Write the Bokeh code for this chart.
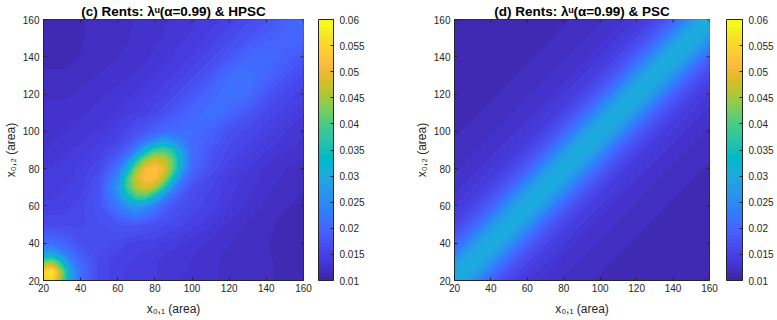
from bokeh.plotting import figure
from bokeh.layouts import row
from bokeh.models import (LinearColorMapper, ColorBar, FixedTicker, NumeralTickFormatter, Range1d)
from bokeh.embed import file_html
from bokeh.resources import INLINE
import numpy as np

# ---------------- data ----------------
# panel (c): sample positions (x_{0,1} columns, x_{0,2} rows)
hpsc_x = [20, 25, 30, 35, 40, 50, 60, 65, 70, 75, 80, 85, 90, 95, 100, 110, 120, 130, 140, 150, 160]
hpsc_y = [20, 25, 30, 35, 40, 50, 60, 65, 70, 75, 80, 85, 90, 95, 100, 110, 120, 130, 140, 150, 160]
# one row per x_{0,2} value (bottom to top)
hpsc_rows = [
    [0.054, 0.055, 0.042, 0.027, 0.021, 0.016, 0.015, 0.0145, 0.014, 0.014, 0.014, 0.0135, 0.0133, 0.0131, 0.013, 0.0125, 0.0121, 0.0118, 0.0116, 0.0115, 0.0115],
    [0.055, 0.057, 0.044, 0.028, 0.021, 0.016, 0.015, 0.0145, 0.014, 0.014, 0.014, 0.0136, 0.0134, 0.0132, 0.013, 0.0125, 0.0121, 0.0118, 0.0116, 0.0115, 0.0115],
    [0.042, 0.044, 0.034, 0.024, 0.020, 0.016, 0.015, 0.015, 0.0145, 0.0142, 0.014, 0.0137, 0.0135, 0.0133, 0.0131, 0.0126, 0.0121, 0.0118, 0.0116, 0.0115, 0.0114],
    [0.027, 0.028, 0.024, 0.021, 0.0185, 0.0165, 0.0155, 0.015, 0.015, 0.0146, 0.0145, 0.014, 0.0137, 0.0135, 0.0132, 0.0127, 0.0122, 0.0118, 0.0116, 0.0114, 0.0114],
    [0.021, 0.021, 0.020, 0.0185, 0.017, 0.017, 0.016, 0.0155, 0.0152, 0.015, 0.015, 0.0145, 0.0142, 0.0139, 0.0135, 0.013, 0.0124, 0.0119, 0.0116, 0.0114, 0.0114],
    [0.016, 0.016, 0.016, 0.016, 0.016, 0.017, 0.0178, 0.018, 0.018, 0.0175, 0.017, 0.0165, 0.016, 0.0155, 0.015, 0.014, 0.013, 0.0122, 0.0117, 0.0114, 0.0113],
    [0.015, 0.015, 0.015, 0.0155, 0.016, 0.0175, 0.0225, 0.0255, 0.028, 0.026, 0.023, 0.0195, 0.0178, 0.0168, 0.016, 0.015, 0.014, 0.013, 0.0122, 0.0116, 0.0114],
    [0.0145, 0.0145, 0.015, 0.015, 0.0155, 0.0175, 0.025, 0.033, 0.040, 0.040, 0.0335, 0.025, 0.020, 0.0178, 0.0165, 0.0152, 0.0141, 0.0132, 0.0124, 0.0118, 0.0115],
    [0.014, 0.014, 0.0145, 0.015, 0.015, 0.0175, 0.027, 0.039, 0.046, 0.049, 0.046, 0.037, 0.025, 0.020, 0.017, 0.0155, 0.0142, 0.0134, 0.0126, 0.012, 0.0116],
    [0.014, 0.014, 0.014, 0.0145, 0.015, 0.017, 0.0247, 0.038, 0.048, 0.0522, 0.052, 0.046, 0.034, 0.023, 0.019, 0.016, 0.0145, 0.0136, 0.0128, 0.0122, 0.0118],
    [0.014, 0.014, 0.014, 0.0145, 0.015, 0.016, 0.022, 0.031, 0.044, 0.051, 0.0527, 0.0495, 0.041, 0.027, 0.020, 0.017, 0.015, 0.014, 0.013, 0.0124, 0.012],
    [0.0135, 0.0135, 0.014, 0.014, 0.0145, 0.0155, 0.019, 0.024, 0.035, 0.044, 0.0485, 0.047, 0.041, 0.029, 0.021, 0.0175, 0.0155, 0.0145, 0.0135, 0.0128, 0.0123],
    [0.013, 0.0135, 0.0135, 0.014, 0.014, 0.015, 0.017, 0.0195, 0.024, 0.032, 0.039, 0.040, 0.036, 0.027, 0.021, 0.018, 0.016, 0.015, 0.014, 0.0132, 0.0127],
    [0.013, 0.013, 0.0133, 0.0135, 0.0138, 0.0145, 0.0155, 0.017, 0.0195, 0.022, 0.025, 0.028, 0.026, 0.023, 0.0205, 0.019, 0.0165, 0.0155, 0.0145, 0.0136, 0.013],
    [0.013, 0.013, 0.0131, 0.0133, 0.0135, 0.014, 0.015, 0.016, 0.017, 0.018, 0.0195, 0.0205, 0.0205, 0.021, 0.021, 0.0195, 0.017, 0.016, 0.015, 0.014, 0.0132],
    [0.0127, 0.0127, 0.0127, 0.0128, 0.013, 0.0134, 0.014, 0.0144, 0.0148, 0.0153, 0.016, 0.017, 0.018, 0.019, 0.020, 0.022, 0.020, 0.018, 0.016, 0.015, 0.014],
    [0.0122, 0.0122, 0.0122, 0.0123, 0.0125, 0.0129, 0.0134, 0.0137, 0.014, 0.0144, 0.0148, 0.0153, 0.016, 0.017, 0.018, 0.020, 0.022, 0.021, 0.018, 0.016, 0.015],
    [0.0117, 0.0117, 0.0117, 0.0118, 0.012, 0.0124, 0.0128, 0.013, 0.0133, 0.0136, 0.014, 0.0144, 0.0148, 0.0153, 0.016, 0.018, 0.021, 0.022, 0.020, 0.018, 0.016],
    [0.0113, 0.0113, 0.0113, 0.0114, 0.0116, 0.012, 0.0123, 0.0125, 0.0128, 0.013, 0.0133, 0.0136, 0.014, 0.0143, 0.0148, 0.016, 0.018, 0.020, 0.021, 0.019, 0.018],
    [0.0112, 0.0112, 0.0112, 0.0113, 0.0115, 0.0118, 0.0121, 0.0123, 0.0125, 0.0128, 0.013, 0.0132, 0.0135, 0.0138, 0.014, 0.015, 0.0162, 0.0178, 0.019, 0.020, 0.020],
    [0.0112, 0.0112, 0.0112, 0.0113, 0.0115, 0.0118, 0.012, 0.0122, 0.0124, 0.0126, 0.0128, 0.013, 0.0132, 0.0135, 0.0138, 0.0143, 0.015, 0.016, 0.0175, 0.019, 0.021],
]

# panel (d): sample positions and the value read along the lines |x_{0,1} - x_{0,2}| = offset
psc_x = [20, 25, 30, 35, 40, 45, 50, 55, 60, 65, 70, 75, 80, 85, 90,
         95, 100, 105, 110, 115, 120, 125, 130, 135, 140, 145, 150, 155, 160]
psc_y = psc_x
psc_offsets = [0, 5, 10, 15, 20, 25, 30, 35, 40, 45, 50, 55, 60, 65, 70,
               75, 80, 85, 90, 95, 100, 105, 110, 115, 120, 125, 130, 135, 140]
psc_by_offset = [0.0305, 0.0295, 0.0265, 0.0228, 0.0195, 0.0172, 0.0157, 0.0146, 0.0139, 0.0133,
                 0.0128, 0.0125, 0.0122, 0.012, 0.0118, 0.0116, 0.0115, 0.0114, 0.0113, 0.0112,
                 0.0111, 0.0111, 0.011, 0.011, 0.0109, 0.0109, 0.0108, 0.0108, 0.0107]

axis_ticks = [20, 40, 60, 80, 100, 120, 140, 160]
cbar_ticks = [0.01, 0.015, 0.02, 0.025, 0.03, 0.035, 0.04, 0.045, 0.05, 0.055, 0.06]
titles = ["(c) Rents: \u03bb\u1d58(\u03b1=0.99) & HPSC", "(d) Rents: \u03bb\u1d58(\u03b1=0.99) & PSC"]
xlabel = "x\u2080,\u2081 (area)"
ylabel = "x\u2080,\u2082 (area)"

# ---------------- style ----------------
parula_rgb = [
    (0.2422, 0.1504, 0.6603), (0.2504, 0.1650, 0.7076), (0.2578, 0.1818, 0.7511), (0.2647, 0.1978, 0.7952),
    (0.2706, 0.2147, 0.8364), (0.2751, 0.2342, 0.8710), (0.2783, 0.2559, 0.8991), (0.2803, 0.2782, 0.9221),
    (0.2813, 0.3006, 0.9414), (0.2810, 0.3228, 0.9579), (0.2795, 0.3447, 0.9717), (0.2760, 0.3667, 0.9829),
    (0.2699, 0.3892, 0.9906), (0.2602, 0.4123, 0.9952), (0.2440, 0.4358, 0.9988), (0.2206, 0.4603, 0.9973),
    (0.1963, 0.4847, 0.9892), (0.1834, 0.5074, 0.9798), (0.1786, 0.5289, 0.9682), (0.1764, 0.5499, 0.9520),
    (0.1687, 0.5703, 0.9359), (0.1540, 0.5902, 0.9218), (0.1460, 0.6091, 0.9079), (0.1380, 0.6276, 0.8973),
    (0.1248, 0.6459, 0.8883), (0.1113, 0.6635, 0.8763), (0.0952, 0.6798, 0.8598), (0.0689, 0.6948, 0.8394),
    (0.0297, 0.7082, 0.8163), (0.0036, 0.7203, 0.7917), (0.0067, 0.7312, 0.7660), (0.0433, 0.7411, 0.7394),
    (0.0964, 0.7500, 0.7120), (0.1408, 0.7584, 0.6842), (0.1717, 0.7670, 0.6554), (0.1938, 0.7758, 0.6251),
    (0.2161, 0.7843, 0.5923), (0.2470, 0.7918, 0.5567), (0.2906, 0.7973, 0.5188), (0.3406, 0.8008, 0.4789),
    (0.3909, 0.8029, 0.4354), (0.4456, 0.8024, 0.3909), (0.5044, 0.7993, 0.3480), (0.5616, 0.7942, 0.3045),
    (0.6174, 0.7876, 0.2612), (0.6720, 0.7793, 0.2227), (0.7242, 0.7698, 0.1910), (0.7738, 0.7598, 0.1646),
    (0.8203, 0.7498, 0.1535), (0.8634, 0.7406, 0.1596), (0.9035, 0.7330, 0.1774), (0.9393, 0.7288, 0.2100),
    (0.9728, 0.7298, 0.2394), (0.9956, 0.7434, 0.2371), (0.9970, 0.7659, 0.2199), (0.9952, 0.7893, 0.2028),
    (0.9892, 0.8136, 0.1885), (0.9804, 0.8384, 0.1747), (0.9696, 0.8639, 0.1615), (0.9631, 0.8901, 0.1526),
    (0.9609, 0.9168, 0.1423), (0.9628, 0.9439, 0.1308), (0.9661, 0.9711, 0.1177), (0.9763, 0.9831, 0.0538),
]
parula = ["#%02x%02x%02x" % tuple(int(round(c * 255)) for c in rgb) for rgb in parula_rgb]
levels = list(np.linspace(cbar_ticks[0], cbar_ticks[-1], len(parula) + 1))

FONT = "Liberation Sans"
AX = "#262626"
FRAME_H = 261


def make_panel(xs, ys, z, title, width, right_border, bar_gap, bar_w, frame_w):
    p = figure(output_backend="svg", toolbar_location=None,
               width=width, height=319,
               x_range=Range1d(20, 160), y_range=Range1d(20, 160),
               min_border_left=43, min_border_right=right_border,
               min_border_top=19, min_border_bottom=39,
               background_fill_color="white", border_fill_color="white")
    # stacked filled regions z >= level (drawn low to high, so no seams show)
    zmax = float(np.max(z))
    for lev, col in zip(levels[:-1], parula):
        if lev >= zmax:
            break
        p.contour(x=xs, y=ys, z=z, levels=[lev, 1.0], fill_color=col, line_color=None)

    # inward tick marks on the top and right edges (box axes)
    tx = 3.0 * 140.0 / frame_w
    ty = 3.0 * 140.0 / FRAME_H
    p.segment(x0=axis_ticks, y0=[160] * len(axis_ticks), x1=axis_ticks,
              y1=[160 - ty] * len(axis_ticks), line_color=AX, line_width=1)
    p.segment(x0=[160] * len(axis_ticks), y0=axis_ticks, x1=[160 - tx] * len(axis_ticks),
              y1=axis_ticks, line_color=AX, line_width=1)

    p.grid.visible = False
    p.outline_line_color = AX
    p.outline_line_width = 1

    for ax in (p.xaxis[0], p.yaxis[0]):
        ax.ticker = FixedTicker(ticks=axis_ticks)
        ax.major_tick_in = 3
        ax.major_tick_out = 0
        ax.minor_tick_line_color = None
        ax.axis_line_color = AX
        ax.major_tick_line_color = AX
        ax.major_label_text_font = FONT
        ax.major_label_text_font_size = "10px"
        ax.major_label_text_color = AX
        ax.axis_label_text_font = FONT
        ax.axis_label_text_font_size = "12px"
        ax.axis_label_text_font_style = "normal"
        ax.axis_label_text_color = AX
    p.xaxis[0].major_label_standoff = 3
    p.xaxis[0].axis_label_standoff = 7
    p.yaxis[0].major_label_standoff = 4
    p.yaxis[0].axis_label_standoff = 2
    p.xaxis[0].axis_label = xlabel
    p.yaxis[0].axis_label = ylabel

    p.title.text = title
    p.title.align = "center"
    p.title.text_font = FONT
    p.title.text_font_size = "13.5px"
    p.title.text_font_style = "bold"
    p.title.text_color = "black"
    p.title.standoff = 2
    p.title.offset = 0

    mapper = LinearColorMapper(palette=parula, low=cbar_ticks[0], high=cbar_ticks[-1])
    cb = ColorBar(color_mapper=mapper, ticker=FixedTicker(ticks=cbar_ticks),
                  formatter=NumeralTickFormatter(format="0.[000]"),
                  width=bar_w, height=FRAME_H, padding=0, margin=0, location=(bar_gap, 0),
                  bar_line_color=AX, bar_line_width=1,
                  major_tick_in=3, major_tick_out=0, major_tick_line_color=AX,
                  minor_tick_line_color=None, label_standoff=6,
                  major_label_text_font=FONT, major_label_text_font_size="10px",
                  major_label_text_color=AX, border_line_color=None,
                  background_fill_color="white")
    p.add_layout(cb, "right")
    return p


hpsc = np.array(hpsc_rows)
psc = np.array([[psc_by_offset[psc_offsets.index(abs(xv - yv))] for xv in psc_x] for yv in psc_y])

pc = make_panel(hpsc_x, hpsc_y, hpsc, titles[0], 411, 108, 15, 15, 260)
pd_ = make_panel(psc_x, psc_y, psc, titles[1], 365, 64, 17, 16, 258)

layout = row(pc, pd_)
open("out.html", "w").write(file_html(layout, INLINE))
